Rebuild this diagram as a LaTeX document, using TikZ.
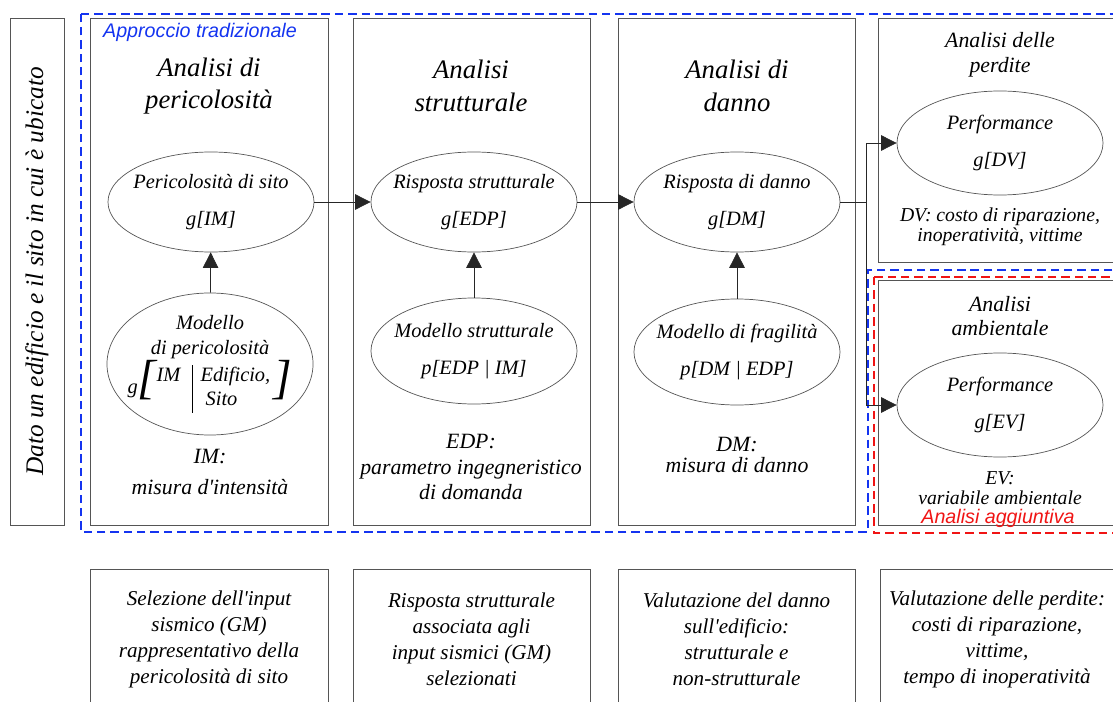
\documentclass[tikz,border=0pt]{standalone}
\usepackage{fontspec}
\setmainfont{Liberation Serif}[Ligatures=TeXOff]
\setsansfont{Liberation Sans}
\usetikzlibrary{arrows.meta,positioning,shapes.geometric}
\definecolor{frame}{HTML}{555555}
\definecolor{appblue}{HTML}{1434F0}
\definecolor{addred}{HTML}{F01414}

\begin{document}
\begin{tikzpicture}[x=0.025cm,y=-0.025cm,>={Triangle[length=11pt,width=11pt]},
 box/.style={draw=frame,line width=0.6pt,inner sep=0pt},
 col/.style={box,minimum width=5.95cm,minimum height=12.675cm},
 low/.style={box,minimum width=5.95cm,minimum height=3.5cm,align=center,font=\fontsize{15}{18.5}\selectfont\itshape},
 el/.style={ellipse,draw=frame,line width=0.5pt,minimum width=5.15cm,minimum height=2.5cm,inner xsep=-20pt,inner ysep=-10pt,align=center,font=\fontsize{14.5}{26}\selectfont\itshape},
 ttl/.style={align=center,font=\fontsize{19}{23}\selectfont\itshape},
 sub/.style={align=center,font=\fontsize{15.5}{15.5}\selectfont\itshape},
 ttls/.style={align=center,font=\fontsize{15.5}{17.5}\selectfont\itshape},
 subs/.style={align=center,font=\fontsize{14}{14.5}\selectfont\itshape},
 tag/.style={font=\sffamily\itshape\fontsize{14}{16}\selectfont},
 ar/.style={->,line width=0.5pt,draw=black!85}]
 \useasboundingbox (0,0) rectangle (1113,702);
 \clip (0,0) rectangle (1113,702);
 % frames
 \node[box,rotate=90,minimum width=12.675cm,minimum height=1.35cm,font=\fontsize{18}{20}\selectfont\itshape] (lb) at (37,271.5) {Dato un edificio e il sito in cui è ubicato};
 \node[col] (col1) at (209,271.5) {};
 \node[col,minimum width=5.925cm] (col2) at (471.5,271.5) {};
 \node[col,minimum width=5.925cm] (col3) at (736.5,271.5) {};
 \node[box,minimum width=6.1cm,minimum height=6.1cm] (col4) at (1000,140) {};
 \node[box,minimum width=6.1cm,minimum height=6.125cm] (col5) at (1000,402.5) {};
 \draw[appblue,line width=1.6pt,dash pattern=on 6pt off 3.5pt] (81,14) -- (1130,14) -- (1130,270) -- (868,270) -- (868,532) -- (81,532) -- cycle;
 \draw[addred,line width=1.6pt,dash pattern=on 6pt off 3.5pt] (874,277) rectangle (1130,533);
 \node[tag,text=appblue] (trad) at (200,32) {Approccio tradizionale};
 \node[tag,text=addred] (agg) at (998,518) {Analisi aggiuntiva};
 % titles
 \node[ttl] (t1) at (209,86) {Analisi di\\pericolosità};
 \node[ttl] (t2) at (471,86) {Analisi\\strutturale};
 \node[ttl] (t3) at (737,86) {Analisi di\\danno};
 \node[ttls] (t4) at (1000,55) {Analisi delle\\perdite};
 \node[ttls] (t5) at (1000,316) {Analisi\\ambientale};
 % ellipses
 \node[el] (e1) at (211,202) {Pericolosità di sito\\g[IM]};
 \node[el] (e2) at (474,202) {Risposta strutturale\\g[EDP]};
 \node[el] (e3) at (737,202) {Risposta di danno\\g[DM]};
 \node[el,minimum height=3.55cm,font=\fontsize{14.5}{18}\selectfont\itshape] (e1m) at (210,364) {Modello\\di pericolosità\\g{\fontsize{34}{34}\selectfont[}\fontsize{14.5}{17}\selectfont\begin{tabular}{@{}l|l@{}}IM\,&Edificio,\\&\ Sito\end{tabular}\,{\fontsize{34}{34}\selectfont]}};
 \node[el,minimum height=2.65cm] (e2m) at (474,351) {Modello strutturale\\p[EDP | IM]};
 \node[el,minimum height=2.65cm] (e3m) at (737,352) {Modello di fragilità\\p[DM | EDP]};
 \node[el,minimum height=2.6cm] (e4) at (1000,143) {Performance\\g[DV]};
 \node[el,minimum height=2.6cm] (e5) at (1000,405) {Performance\\g[EV]};
 % captions
 \node[sub] (c1) at (210,472) {IM:\\[6pt]misura d'intensità};
 \node[sub,font=\fontsize{15.5}{18}\selectfont\itshape] (c2) at (471,467) {EDP:\\parametro ingegneristico\\di domanda};
 \node[sub] (c3) at (737,455) {DM:\\misura di danno};
 \node[subs] (c4) at (1000,227) {DV: costo di riparazione,\\inoperatività, vittime};
 \node[subs] (c5) at (1000,488) {EV:\\variabile ambientale};
 % lower boxes
 \node[low] (b1) at (209,639) {Selezione dell'input\\sismico (GM)\\rappresentativo della\\pericolosità di sito};
 \node[low,minimum width=5.925cm] (b2) at (471.5,639) {Risposta strutturale\\associata agli\\input sismici (GM)\\selezionati};
 \node[low,minimum width=5.925cm] (b3) at (736.5,639) {Valutazione del danno\\sull'edificio:\\strutturale e\\non-strutturale};
 \node[low,minimum width=5.85cm] (b4) at (997,639) {Valutazione delle perdite:\\costi di riparazione,\\vittime,\\tempo di inoperatività};
 % connectors
 \coordinate (split) at (866,202);
 \foreach \a/\b in {e1m/e1,e2m/e2,e3m/e3,e1/e2,e2/e3} \draw[ar] (\a)--(\b);
 \draw[ar,-] (e3)--(split);
 \draw[ar] (split) |- (e4);
 \draw[ar] (split) |- (e5);
\end{tikzpicture}
\end{document}
